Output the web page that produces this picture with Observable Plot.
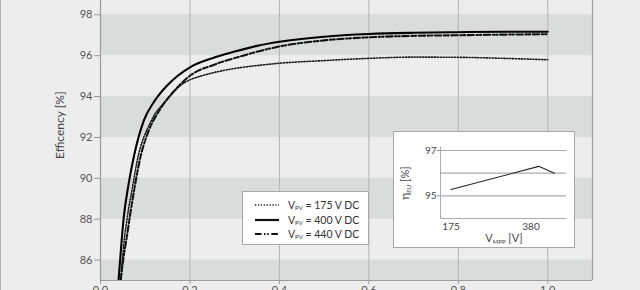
<!DOCTYPE html>
<html><head><meta charset="utf-8">
<script src="https://cdn.jsdelivr.net/npm/d3@7"></script>
<script src="https://cdn.jsdelivr.net/npm/@observablehq/plot@0.6"></script>
<style>
body{margin:0;background:#ecedec;font-family:Lato,"Noto Sans",sans-serif;}
#wrap{position:relative;width:640px;height:290px;overflow:hidden;background:#ecedec;}
#wrap > svg{position:absolute;left:0;top:0;}
#border{position:absolute;left:0;top:0;width:1px;height:290px;background:#b4b4b4}
#legend{position:absolute;left:242px;top:191px;width:127px;height:54px;background:#fff;border:1px solid #a8a8a8;box-sizing:border-box;}
#legend .row{position:absolute;left:0;height:14px;}
#legend svg{position:absolute;left:12px;top:0;}
#legend span{position:absolute;left:45px;top:0;font-size:10.5px;color:#333;white-space:nowrap;line-height:14px;}
#legend sub{font-size:6px;vertical-align:-1px;}
#inset{position:absolute;left:393px;top:131px;width:180px;height:115px;background:#fff;border:1px solid #a8a8a8;}
#inset svg{position:absolute;left:0;top:0;}
</style></head>
<body><div id="wrap"><div id="border"></div><div id="legend"></div><div id="inset"></div></div>
<script>
// Main chart data
const xTicks = [0, 0.2, 0.4, 0.6, 0.8, 1.0];
const yTicks = [86, 88, 90, 92, 94, 96, 98];
const bandLow = [84, 88, 92, 96];
const bandHigh = [86, 90, 94, 98];

const v175x = [0.046, 0.049, 0.06, 0.071, 0.082, 0.112, 0.149, 0.179, 0.2, 0.224, 0.269, 0.314, 0.351, 0.4, 0.5, 0.6, 0.7, 0.8, 0.9, 1.0];
const v175y = [85, 86, 88.1, 89.5, 90.85, 92.75, 93.85, 94.55, 94.82, 95.0, 95.25, 95.42, 95.52, 95.63, 95.76, 95.87, 95.93, 95.92, 95.87, 95.8];

const v400x = [0.0403, 0.041, 0.052, 0.063, 0.075, 0.097, 0.119, 0.149, 0.2, 0.25, 0.3, 0.35, 0.4, 0.5, 0.6, 0.7, 0.8, 0.9, 1.0];
const v400y = [85, 85.19, 88.1, 89.74, 91.1, 92.83, 93.72, 94.54, 95.43, 95.88, 96.2, 96.48, 96.68, 96.93, 97.06, 97.12, 97.15, 97.17, 97.17];

const v440x = [0.045, 0.046, 0.06, 0.075, 0.09, 0.108, 0.134, 0.172, 0.2, 0.254, 0.306, 0.4, 0.5, 0.6, 0.7, 0.8, 0.9, 1.0];
const v440y = [85, 85.2, 87.3, 89.4, 91.1, 92.34, 93.4, 94.45, 95.02, 95.56, 95.92, 96.45, 96.75, 96.9, 96.97, 97.0, 97.03, 97.05];

const seriesNames = ["175", "400", "440"];

// Inset data
const insetV = [175, 400, 440];
const insetEta = [95.28, 96.3, 96.0];
const insetXTicks = [175, 380];
const insetYTicks = [95, 97];
const insetGrid = [95, 96, 97];

const font = 'Lato, "Noto Sans", sans-serif';
const bands = bandLow.map((lo, i) => ({lo, hi: bandHigh[i]}));
const pts = (xs, ys) => xs.map((x, i) => ({x, y: ys[i]}));
const dotDash = "1.2,1.7";
const dashDot = "6.5,2.5,1.5,1.8,1.5,2.5";

const main = Plot.plot({
  width: 640, height: 290,
  marginLeft: 100, marginRight: 48, marginTop: 0, marginBottom: 10,
  x: {domain: [0, 1.1]},
  y: {domain: [85, 98.7]},
  style: {background: "transparent", fontFamily: font, fontSize: "11px", color: "#555", overflow: "visible"},
  marks: [
    Plot.rect(bands, {y1: "lo", y2: "hi", fill: "#dadbdb", clip: true}),
    Plot.ruleX(xTicks.slice(1), {stroke: "#b4b4b4", strokeWidth: 1}),
    Plot.ruleX([0, 1.1], {stroke: "#9c9c9c", strokeWidth: 1.2}),
    Plot.ruleY([85], {stroke: "#9c9c9c", strokeWidth: 1.2}),
    Plot.line(pts(v175x, v175y), {x: "x", y: "y", curve: "monotone-x", stroke: "#1a1a1a", strokeWidth: 1.6, strokeDasharray: dotDash, clip: true}),
    Plot.line(pts(v440x, v440y), {x: "x", y: "y", curve: "monotone-x", stroke: "#111", strokeWidth: 2.1, strokeDasharray: dashDot, clip: true}),
    Plot.line(pts(v400x, v400y), {x: "x", y: "y", curve: "monotone-x", stroke: "#000", strokeWidth: 2.1, clip: true}),
    Plot.axisY(yTicks, {tickSize: 6, tickPadding: 2, stroke: "#999", fill: "#555", label: null, fontSize: 11}),
    Plot.axisX(xTicks, {tickSize: 4, tickPadding: 2, stroke: "#999", fill: "#555", label: null, fontSize: 11, tickFormat: d3.format(".1f")}),
    Plot.text(["Efficency [%]"], {x: 0, y: 92.6, dx: -40, rotate: -90, fill: "#444", fontSize: 12, textAnchor: "middle"})
  ]
});
document.getElementById("wrap").insertBefore(main, document.getElementById("legend"));

// Legend
const legend = document.getElementById("legend");
const legendRows = [
  {v: seriesNames[0], dash: dotDash, w: 1.6, top: 6},
  {v: seriesNames[1], dash: null, w: 2.2, top: 20.5},
  {v: seriesNames[2], dash: dashDot, w: 2.2, top: 35}
];
legendRows.forEach(r => {
  const row = document.createElement("div");
  row.className = "row";
  row.style.top = r.top + "px";
  row.style.width = "125px";
  row.innerHTML = `<svg width="26" height="14"><line x1="0" x2="24" y1="7" y2="7" stroke="#111" stroke-width="${r.w}" ${r.dash ? `stroke-dasharray="${r.dash}"` : ""}/></svg><span>V<sub>PV</sub> = ${r.v} V DC</span>`;
  legend.appendChild(row);
});

// Inset
const inset = Plot.plot({
  width: 180, height: 115,
  marginLeft: 46, marginRight: 8, marginTop: 18, marginBottom: 29,
  x: {domain: [148, 471]},
  y: {domain: [94, 97]},
  style: {background: "#fff", fontFamily: font, fontSize: "10px", color: "#444"},
  marks: [
    Plot.ruleY(insetGrid, {stroke: "#ababab", strokeWidth: 1.2}),
    Plot.ruleX([148], {y1: 94, y2: 97.15, stroke: "#ababab"}),
    Plot.ruleY([94], {stroke: "#ababab"}),
    Plot.line(insetV.map((v, i) => ({v, e: insetEta[i]})), {x: "v", y: "e", stroke: "#222", strokeWidth: 1.1}),
    Plot.axisY(insetYTicks, {tickSize: 3, tickPadding: 1, stroke: "#999", fill: "#444", label: null, fontSize: 10}),
    Plot.axisX(insetXTicks, {tickSize: 0, tickPadding: 4, stroke: "#999", fill: "#444", label: null, fontSize: 10})
  ]
});
document.getElementById("inset").appendChild(inset);
const isvg = d3.select(inset);
const yl = isvg.append("text").attr("transform", "translate(15,51) rotate(-90)")
  .attr("text-anchor", "middle").attr("fill", "#444").attr("font-family", font).attr("font-size", 12);
yl.append("tspan").text("η");
yl.append("tspan").attr("font-size", 6).attr("dy", 2).text("EU");
yl.append("tspan").attr("dy", -2).attr("font-size", 11).text(" [%]");
const xl = isvg.append("text").attr("x", 110).attr("y", 110)
  .attr("text-anchor", "middle").attr("fill", "#444").attr("font-family", font).attr("font-size", 11);
xl.append("tspan").text("V");
xl.append("tspan").attr("font-size", 6).attr("dy", 2).text("MPP");
xl.append("tspan").attr("dy", -2).text(" [V]");
</script>
</body></html>
